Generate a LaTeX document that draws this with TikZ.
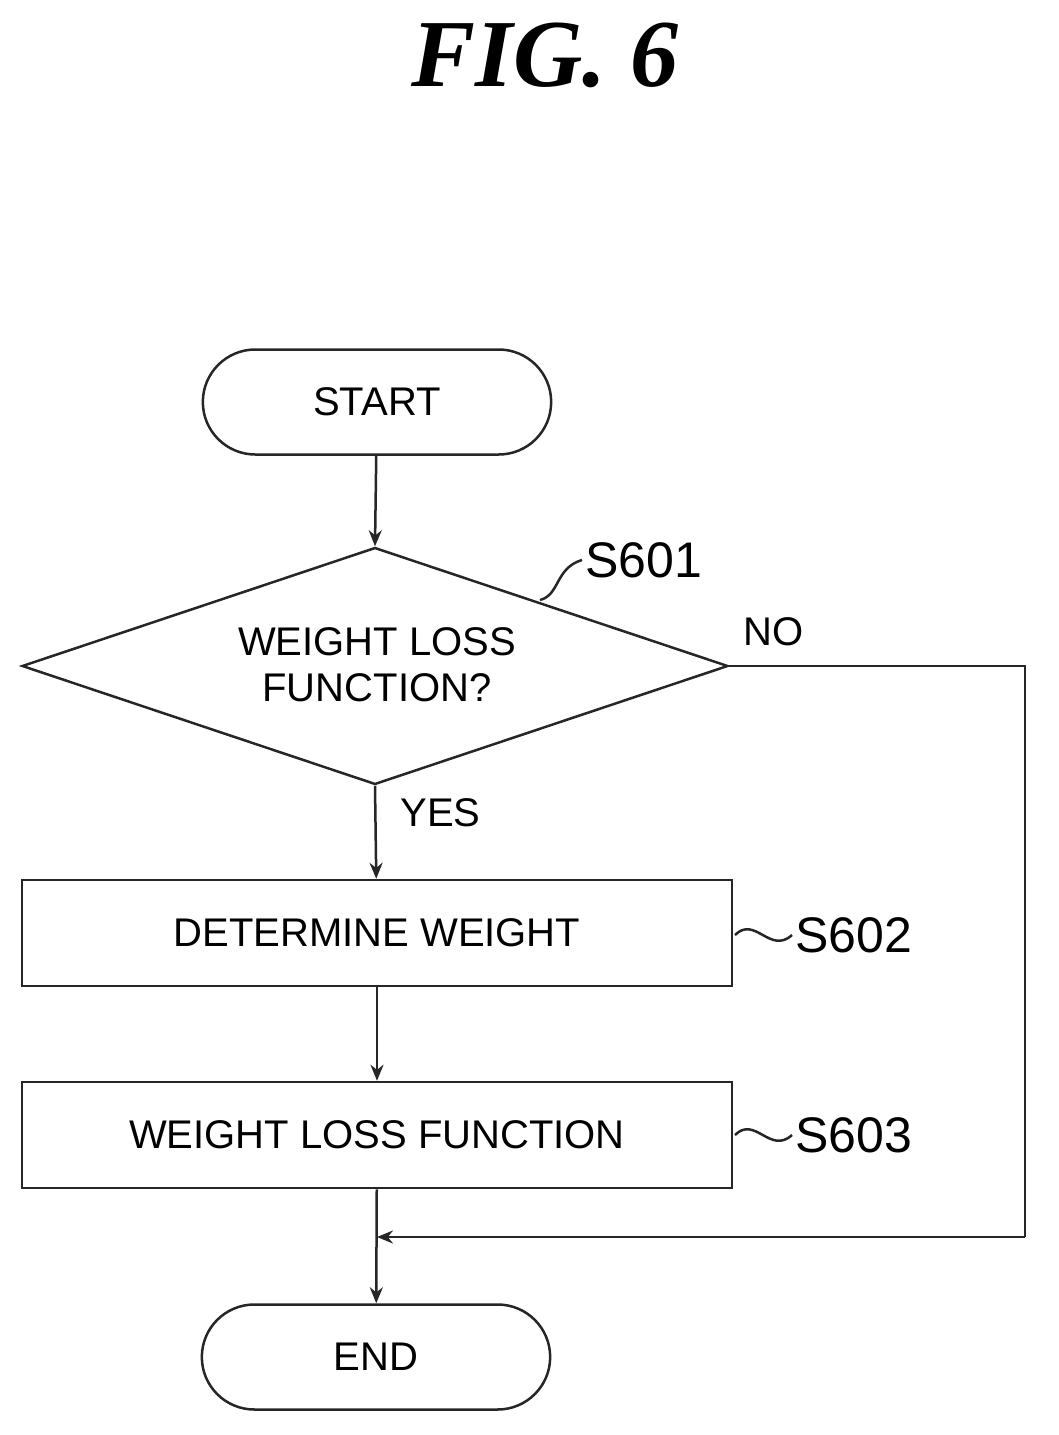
\documentclass[tikz,border=0pt]{standalone}
\usepackage{fontspec}
\setmainfont{Liberation Sans}
\newfontfamily\titlefont{Liberation Serif}
\usetikzlibrary{shapes.geometric,shapes.misc,arrows.meta}
\begin{document}
\begin{tikzpicture}[x=1pt,y=-1pt,
  ln/.style={line width=2.5pt,draw=black!85},
  arr/.style={ln,-{Stealth[length=16pt,width=13pt]}},
  txt/.style={font=\fontsize{40}{46}\selectfont,align=center},
  lab/.style={font=\fontsize{50}{56}\selectfont},
  term/.style={ln,rounded rectangle,minimum width=355pt,minimum height=105pt,txt},
  box/.style={ln,rectangle,minimum width=710pt,minimum height=106pt,txt}]
\useasboundingbox (0,0) rectangle (1058,1435);
\node[font=\titlefont\fontsize{96}{100}\selectfont\bfseries\itshape] (title) at (545,55) {FIG. 6};
\node[term] (start) at (377,402) {START};
\node[ln,diamond,aspect=3,minimum width=706pt,minimum height=237pt,inner sep=0pt] (d) at (375,666) {};
\node[txt] (dt) at (377,665) {WEIGHT LOSS\\FUNCTION?};
\node[box] (s2) at (377,933) {DETERMINE WEIGHT};
\node[box] (s3) at (377,1135) {WEIGHT LOSS FUNCTION};
\node[term] (end) at (376,1357) {END};
\node[lab,anchor=west] (l1) at (582,560) {S601};
\node[lab,anchor=west] (l2) at (792,935) {S602};
\node[lab,anchor=west] (l3) at (792,1135) {S603};
\node[txt,anchor=west] (no) at (740,632) {NO};
\node[txt,anchor=west] (yes) at (397,813) {YES};
\coordinate (c1) at (1025,666);
\coordinate (c2) at (1025,1237);
\coordinate (m) at (377,1237);
\draw[arr] (start) -- (d.north);
\draw[arr] (d.south) -- (s2);
\draw[arr] (s2) -- (s3);
\draw[arr] (s3) -- (end);
\draw[ln] (d.east) -- (c1) -- (c2);
\draw[arr] (c2) -- (m);
\draw[ln] (540,600) .. controls (560,595) and (555,568) .. (l1.west);
\draw[ln] (735,935) .. controls (755,915) and (770,955) .. (l2.west);
\draw[ln] (735,1135) .. controls (755,1115) and (770,1155) .. (l3.west);
\end{tikzpicture}
\end{document}
